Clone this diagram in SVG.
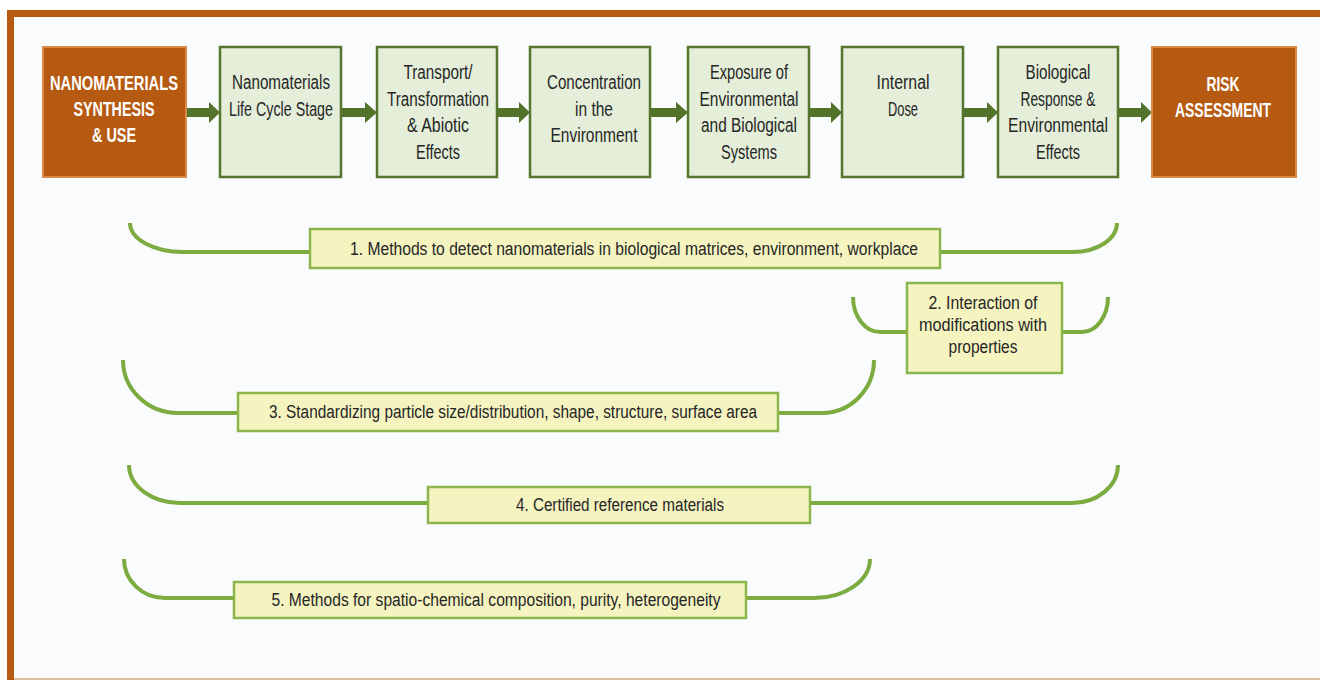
<svg xmlns="http://www.w3.org/2000/svg" width="1320" height="680" viewBox="0 0 1320 680">
<style>
.bg{fill:#fafbfc}
.frame{fill:#b85a12}
.orange rect{fill:#b65a12;stroke:#d98a45;stroke-width:2}
.green rect{fill:#e4eed9;stroke:#56762f;stroke-width:2.5}
.yellow rect{fill:#f5f4c1;stroke:#8cb54e;stroke-width:2.5}
.t{font-family:"Liberation Sans",Arial,sans-serif;font-size:19.5px;fill:#262626;text-anchor:middle}
.w{font-family:"Liberation Sans",Arial,sans-serif;font-size:19.5px;font-weight:bold;fill:#ffffff;text-anchor:middle}
.s{font-family:"Liberation Sans",Arial,sans-serif;font-size:18px;fill:#262626;text-anchor:middle}
.arrow{fill:#54732a}
.br{fill:none;stroke:#7cac3f;stroke-width:4}
</style>
<rect x="0" y="0" width="1320" height="680" fill="#ffffff"/>
<rect class="bg" x="14" y="17" width="1306" height="662"/>
<rect class="frame" x="7" y="10" width="1313" height="7"/>
<rect class="frame" x="7" y="10" width="7" height="670"/>
<rect x="14" y="678" width="1306" height="2" fill="#dcbda0"/>

<g id="connectors">
  <polygon class="arrow" points="186,108 209,108 209,102 220,112.5 209,123 209,117 186,117"/>
  <polygon class="arrow" points="341,108 365,108 365,102 377,112.5 365,123 365,117 341,117"/>
  <polygon class="arrow" points="497,108 519,108 519,102 530,112.5 519,123 519,117 497,117"/>
  <polygon class="arrow" points="650,108 676,108 676,102 688,112.5 676,123 676,117 650,117"/>
  <polygon class="arrow" points="809,108 831,108 831,102 842,112.5 831,123 831,117 809,117"/>
  <polygon class="arrow" points="963,108 987,108 987,102 998,112.5 987,123 987,117 963,117"/>
  <polygon class="arrow" points="1118,108 1141,108 1141,102 1152,112.5 1141,123 1141,117 1118,117"/>
  <path class="br" d="M130,223 A53,29 0 0 0 183,252 H310 M940,252 H1073 A44,29 0 0 0 1117,223"/>
  <path class="br" d="M853,297 A27,35 0 0 0 880,332 H907 M1062,332 H1082 A26,35 0 0 0 1108,297"/>
  <path class="br" d="M123,360 A55,53 0 0 0 178,413 H238 M778,413 H822 A52,53 0 0 0 874,360"/>
  <path class="br" d="M129,465 A51,38 0 0 0 180,503 H428 M810,503 H1072 A46,38 0 0 0 1118,465"/>
  <path class="br" d="M124,559 A41,39 0 0 0 165,598 H234 M746,598 H814 A56,39 0 0 0 870,559"/>
</g>

<g id="synthesis" class="orange">
  <rect x="43" y="47" width="143" height="130"/>
  <text class="w" x="114" y="90" textLength="128" lengthAdjust="spacingAndGlyphs">NANOMATERIALS</text>
  <text class="w" x="114" y="116" textLength="81" lengthAdjust="spacingAndGlyphs">SYNTHESIS</text>
  <text class="w" x="114" y="142" textLength="44" lengthAdjust="spacingAndGlyphs">&amp; USE</text>
</g>
<g id="lifecycle" class="green">
  <rect x="220" y="47" width="121" height="130"/>
  <text class="t" x="281" y="89" textLength="98" lengthAdjust="spacingAndGlyphs">Nanomaterials</text>
  <text class="t" x="281" y="115.5" textLength="104" lengthAdjust="spacingAndGlyphs">Life Cycle Stage</text>
</g>
<g id="transport" class="green">
  <rect x="377" y="47" width="120" height="130"/>
  <text class="t" x="438" y="79" textLength="69" lengthAdjust="spacingAndGlyphs">Transport/</text>
  <text class="t" x="438" y="105.5" textLength="102" lengthAdjust="spacingAndGlyphs">Transformation</text>
  <text class="t" x="438" y="132" textLength="62" lengthAdjust="spacingAndGlyphs">&amp; Abiotic</text>
  <text class="t" x="438" y="158.5" textLength="44" lengthAdjust="spacingAndGlyphs">Effects</text>
</g>
<g id="concentration" class="green">
  <rect x="530" y="47" width="120" height="130"/>
  <text class="t" x="594" y="89" textLength="94" lengthAdjust="spacingAndGlyphs">Concentration</text>
  <text class="t" x="594" y="115.5" textLength="38" lengthAdjust="spacingAndGlyphs">in the</text>
  <text class="t" x="594" y="142" textLength="87" lengthAdjust="spacingAndGlyphs">Environment</text>
</g>
<g id="exposure" class="green">
  <rect x="688" y="47" width="121" height="130"/>
  <text class="t" x="749" y="79" textLength="78" lengthAdjust="spacingAndGlyphs">Exposure of</text>
  <text class="t" x="749" y="105.5" textLength="99" lengthAdjust="spacingAndGlyphs">Environmental</text>
  <text class="t" x="749" y="132" textLength="96" lengthAdjust="spacingAndGlyphs">and Biological</text>
  <text class="t" x="749" y="158.5" textLength="56" lengthAdjust="spacingAndGlyphs">Systems</text>
</g>
<g id="internal-dose" class="green">
  <rect x="842" y="47" width="121" height="130"/>
  <text class="t" x="903" y="89" textLength="53" lengthAdjust="spacingAndGlyphs">Internal</text>
  <text class="t" x="903" y="115.5" textLength="30" lengthAdjust="spacingAndGlyphs">Dose</text>
</g>
<g id="response" class="green">
  <rect x="998" y="47" width="120" height="130"/>
  <text class="t" x="1058" y="79" textLength="65" lengthAdjust="spacingAndGlyphs">Biological</text>
  <text class="t" x="1058" y="105.5" textLength="75" lengthAdjust="spacingAndGlyphs">Response &amp;</text>
  <text class="t" x="1058" y="132" textLength="100" lengthAdjust="spacingAndGlyphs">Environmental</text>
  <text class="t" x="1058" y="158.5" textLength="44" lengthAdjust="spacingAndGlyphs">Effects</text>
</g>
<g id="risk" class="orange">
  <rect x="1152" y="47" width="144" height="130"/>
  <text class="w" x="1223" y="91" textLength="33" lengthAdjust="spacingAndGlyphs">RISK</text>
  <text class="w" x="1223" y="117" textLength="96" lengthAdjust="spacingAndGlyphs">ASSESSMENT</text>
</g>

<g id="gap1" class="yellow">
  <rect x="310" y="229" width="630" height="39"/>
  <text class="s" x="634" y="254.5" textLength="568" lengthAdjust="spacingAndGlyphs">1.  Methods to detect nanomaterials in biological matrices, environment, workplace</text>
</g>
<g id="gap2" class="yellow">
  <rect x="907" y="283" width="155" height="90"/>
  <text class="s" x="983" y="309" textLength="109" lengthAdjust="spacingAndGlyphs">2. Interaction of</text>
  <text class="s" x="983" y="331" textLength="128" lengthAdjust="spacingAndGlyphs">modifications with</text>
  <text class="s" x="983" y="353" textLength="69" lengthAdjust="spacingAndGlyphs">properties</text>
</g>
<g id="gap3" class="yellow">
  <rect x="238" y="393" width="540" height="38"/>
  <text class="s" x="513" y="418" textLength="488" lengthAdjust="spacingAndGlyphs">3. Standardizing particle size/distribution, shape, structure, surface area</text>
</g>
<g id="gap4" class="yellow">
  <rect x="428" y="487" width="382" height="36"/>
  <text class="s" x="620" y="511" textLength="208" lengthAdjust="spacingAndGlyphs">4.   Certified   reference   materials</text>
</g>
<g id="gap5" class="yellow">
  <rect x="234" y="582" width="512" height="36"/>
  <text class="s" x="496" y="606" textLength="449" lengthAdjust="spacingAndGlyphs">5. Methods for spatio-chemical composition, purity, heterogeneity</text>
</g>
</svg>
